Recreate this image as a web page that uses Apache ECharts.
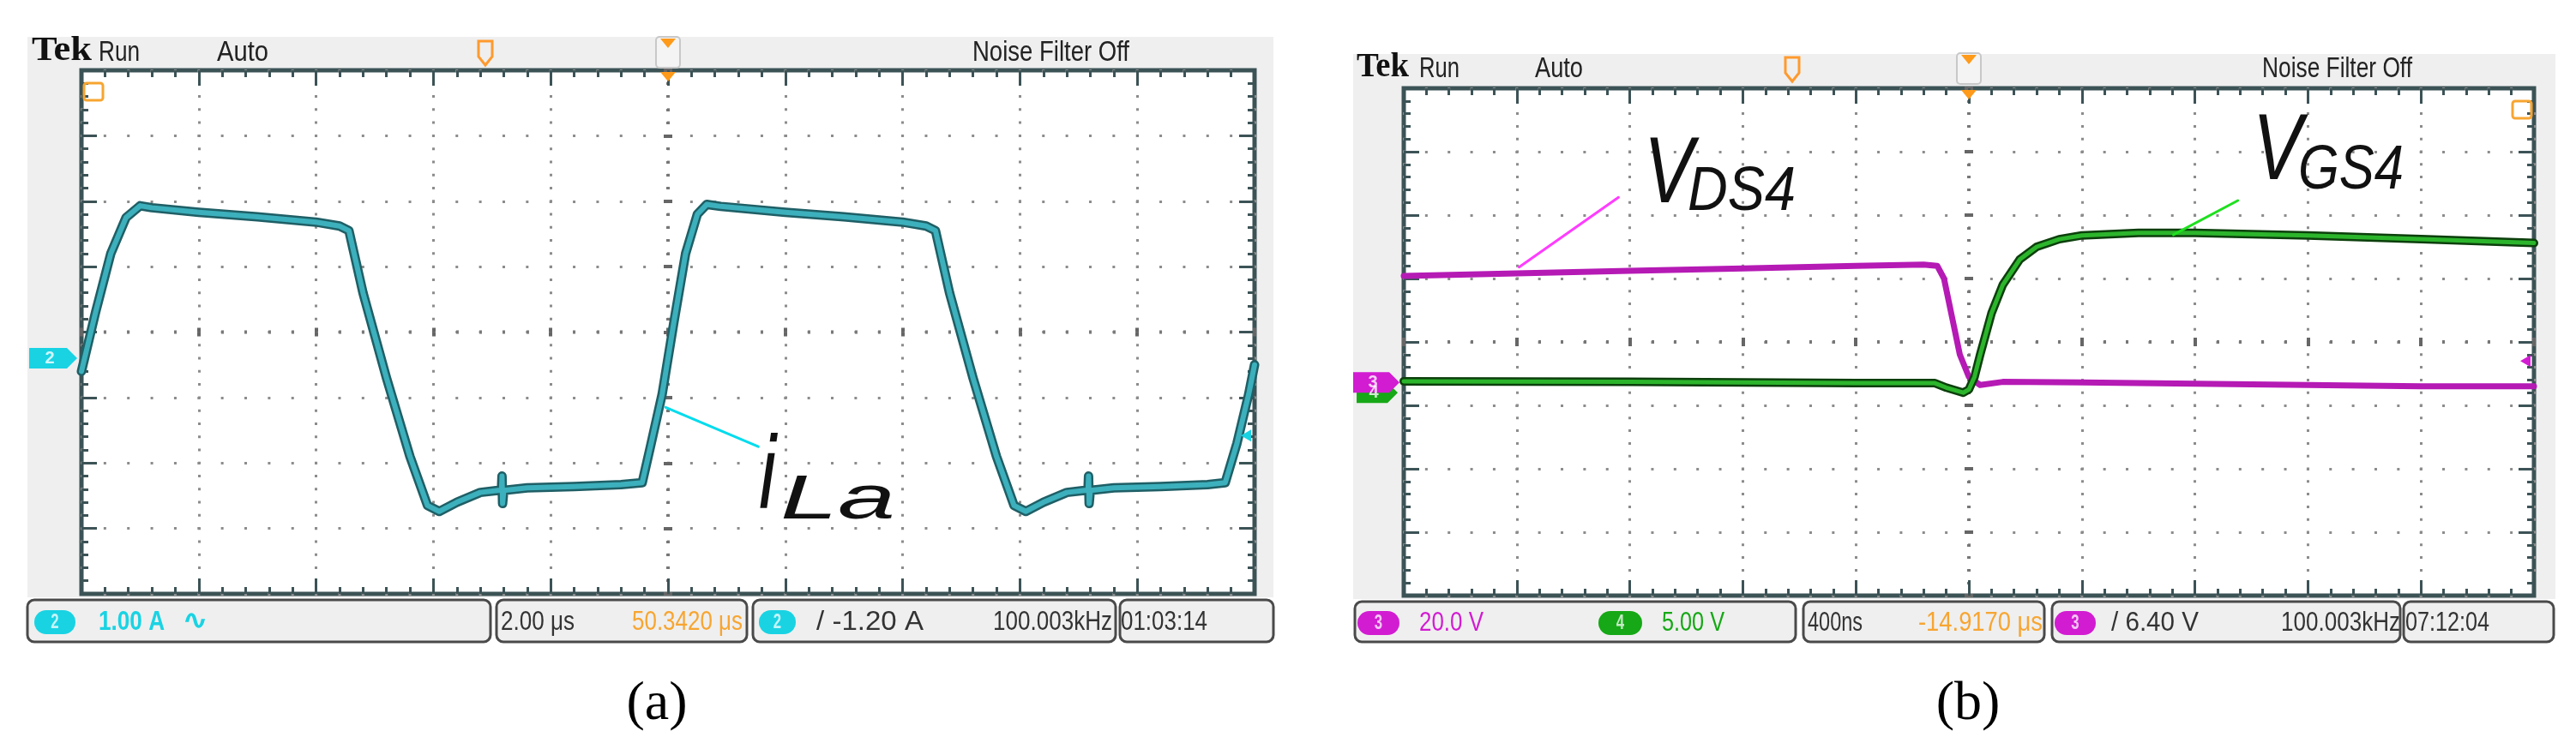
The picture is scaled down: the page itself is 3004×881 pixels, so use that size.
<!DOCTYPE html>
<html>
<head>
<meta charset="utf-8">
<script src="https://cdn.jsdelivr.net/npm/echarts@6/dist/echarts.min.js"></script>
<style>
  html, body { margin: 0; padding: 0; background: #fff; }
  #chart { width: 3004px; height: 881px; }
</style>
</head>
<body>
<div id="chart"></div>
<script>
// values are read off the scope screens, in screen divisions
// x: 0..10 div (left to right), y: -4..4 div (from centre line)

// (a) inductor current iLa, 2.00 us/div, 1.00 A/div
const iLaT = [0, 0.12, 0.25, 0.38, 0.5, 0.6, 1.0, 1.5, 2.0, 2.2, 2.28, 2.4, 2.6, 2.8, 2.95, 3.05, 3.2, 3.4, 3.55, 3.58, 3.585, 3.59, 3.6, 3.8, 4.2, 4.6, 4.78, 4.85, 4.95, 5.05, 5.15, 5.25, 5.33, 5.45, 6.0, 6.5, 7.0, 7.2, 7.28, 7.4, 7.6, 7.8, 7.95, 8.05, 8.2, 8.4, 8.55, 8.58, 8.585, 8.59, 8.6, 8.8, 9.2, 9.6, 9.75, 9.85, 9.95, 10]
const iLaV = [-0.6, 0.3, 1.2, 1.75, 1.93, 1.9, 1.83, 1.76, 1.68, 1.62, 1.55, 0.6, -0.7, -1.9, -2.65, -2.74, -2.6, -2.45, -2.42, -2.42, -2.2, -2.62, -2.42, -2.38, -2.36, -2.33, -2.3, -1.75, -0.95, 0.15, 1.2, 1.8, 1.95, 1.92, 1.83, 1.76, 1.68, 1.62, 1.55, 0.6, -0.7, -1.9, -2.65, -2.74, -2.6, -2.45, -2.42, -2.42, -2.2, -2.62, -2.42, -2.38, -2.36, -2.33, -2.3, -1.7, -0.95, -0.5]

// (b) drain-source and gate-source voltages, 400 ns/div
const vdsT = [0, 1, 2, 3, 4, 4.6, 4.72, 4.78, 4.85, 4.92, 5.0, 5.1, 5.3, 6, 7, 8, 9, 10]
const vdsV = [1.04, 1.08, 1.12, 1.16, 1.2, 1.22, 1.2, 1.0, 0.4, -0.2, -0.55, -0.68, -0.63, -0.64, -0.66, -0.68, -0.7, -0.7]
const vgsT = [0, 2, 4, 4.7, 4.8, 4.95, 5.0, 5.05, 5.1, 5.2, 5.3, 5.45, 5.6, 5.8, 6.0, 6.5, 7, 8, 9, 10]
const vgsV = [-0.62, -0.63, -0.65, -0.65, -0.72, -0.8, -0.75, -0.55, -0.2, 0.45, 0.9, 1.3, 1.5, 1.62, 1.68, 1.72, 1.72, 1.68, 1.62, 1.56]

// label leader lines (div)
const iLaLeadT = [4.98, 5.77]
const iLaLeadV = [-1.15, -1.75]
const vdsLeadT = [1.02, 1.9]
const vdsLeadV = [1.18, 2.28]
const vgsLeadT = [6.81, 7.38]
const vgsLeadV = [1.69, 2.23]

const zip = (xs, ys) => xs.map((x, i) => [x, ys[i]])

const GA = { left: 95, top: 82, width: 1368, height: 611 }
const GB = { left: 1637, top: 103, width: 1318, height: 592 }
const frameColor = '#3c5356'
const dotColor = '#8c8c8c'

function xAxes (gridIndex, g) {
  const dv = g.height / 40
  const base = {
    gridIndex,
    type: 'value',
    min: 0,
    max: 10,
    interval: 1,
    axisLabel: { show: false },
    axisLine: { show: false, onZero: false },
    splitLine: { show: false }
  }
  const tick = { show: true, inside: true, length: 18, lineStyle: { color: frameColor, width: 3 } }
  const minor = { show: true, splitNumber: 5, length: 8, lineStyle: { color: frameColor, width: 3 } }
  // centre line: short marks on both sides
  const centre = inside => Object.assign({}, base, {
    position: 'bottom',
    offset: -g.height / 2,
    axisTick: { show: true, inside, length: 5, lineStyle: { color: '#666', width: 4 } },
    minorTick: { show: true, splitNumber: 5, length: 2, lineStyle: { color: '#777', width: 3 } }
  })
  return [
    Object.assign({}, base, {
      position: 'bottom',
      axisTick: tick,
      minorTick: minor,
      splitLine: { show: true, lineStyle: { color: dotColor, width: 3, type: [3, dv - 3], dashOffset: 1.5 } }
    }),
    Object.assign({}, base, { position: 'top', axisTick: tick, minorTick: minor }),
    centre(true),
    centre(false)
  ]
}

function yAxes (gridIndex, g) {
  const dh = g.width / 50
  const base = {
    gridIndex,
    type: 'value',
    min: -4,
    max: 4,
    interval: 1,
    axisLabel: { show: false },
    axisLine: { show: false, onZero: false },
    splitLine: { show: false }
  }
  const tick = { show: true, inside: true, length: 18, lineStyle: { color: frameColor, width: 3 } }
  const minor = { show: true, splitNumber: 5, length: 8, lineStyle: { color: frameColor, width: 3 } }
  const centre = inside => Object.assign({}, base, {
    position: 'left',
    offset: -g.width / 2,
    axisTick: { show: true, inside, length: 5, lineStyle: { color: '#666', width: 4 } },
    minorTick: { show: true, splitNumber: 5, length: 2, lineStyle: { color: '#777', width: 3 } }
  })
  return [
    Object.assign({}, base, {
      position: 'left',
      axisTick: tick,
      minorTick: minor,
      splitLine: { show: true, lineStyle: { color: dotColor, width: 3, type: [3, dh - 3], dashOffset: 1.5 } }
    }),
    Object.assign({}, base, { position: 'right', axisTick: tick, minorTick: minor }),
    centre(true),
    centre(false)
  ]
}

function trace (data, xi, color, width, z) {
  return {
    type: 'line',
    xAxisIndex: xi,
    yAxisIndex: xi,
    data,
    showSymbol: false,
    silent: true,
    z,
    lineStyle: { color, width, join: 'round', cap: 'round' }
  }
}

// text fitted into a horizontal span
const measureCtx = document.createElement('canvas').getContext('2d')
function fitText (text, x0, x1, yMid, size, color, font, weight, style) {
  const fam = font || 'Liberation Sans'
  measureCtx.font = `${style || 'normal'} ${weight || 'normal'} ${size}px ${fam}`
  const w = measureCtx.measureText(text).width
  return {
    type: 'text',
    x: x0,
    y: yMid,
    scaleX: (x1 - x0) / w,
    z: 50,
    style: {
      text,
      fill: color,
      font: `${style || 'normal'} ${weight || 'normal'} ${size}px ${fam}`,
      textAlign: 'left',
      textVerticalAlign: 'middle'
    }
  }
}

function statusSeg (x0, x1, y0, y1) {
  return {
    type: 'rect',
    z: 10,
    shape: { x: x0, y: y0, width: x1 - x0, height: y1 - y0, r: 8 },
    style: { fill: '#efefef', stroke: '#4a4a4a', lineWidth: 3 }
  }
}

function badge (x0, x1, y0, y1, color, label) {
  return [
    {
      type: 'rect',
      z: 20,
      shape: { x: x0, y: y0, width: x1 - x0, height: y1 - y0, r: (y1 - y0) / 2 },
      style: { fill: color }
    },
    {
      type: 'text',
      z: 21,
      x: (x0 + x1) / 2,
      y: (y0 + y1) / 2,
      scaleX: 0.7,
      style: { text: label, fill: 'rgba(255,255,255,0.75)', font: 'bold 24px Liberation Sans', textAlign: 'center', textVerticalAlign: 'middle' }
    }
  ]
}

function header (yMid, p) {
  return [
    fitText('Tek', p.tek[0], p.tek[1], yMid, 40, '#111', 'Liberation Serif', 'bold'),
    fitText('Run', p.run[0], p.run[1], yMid + 2, 34, '#222'),
    fitText('Auto', p.auto[0], p.auto[1], yMid + 2, 34, '#222'),
    fitText('Noise Filter Off', p.nf[0], p.nf[1], yMid + 2, 34, '#222'),
    // trigger position marker
    {
      type: 'polygon', z: 30,
      shape: { points: [[p.tp - 8, yMid - 12], [p.tp + 8, yMid - 12], [p.tp + 8, yMid + 6], [p.tp, yMid + 16], [p.tp - 8, yMid + 6]] },
      style: { fill: 'none', stroke: '#ff9a2e', lineWidth: 3 }
    },
    // centre bracket
    {
      type: 'rect', z: 30,
      shape: { x: p.c - 14, y: yMid - 17, width: 28, height: 36, r: 4 },
      style: { fill: '#f4f4f4', stroke: '#c8c8c8', lineWidth: 2 }
    },
    {
      type: 'polygon', z: 31,
      shape: { points: [[p.c - 9, yMid - 15], [p.c + 9, yMid - 15], [p.c, yMid - 4]] },
      style: { fill: '#ff9a1a' }
    },
    {
      type: 'polygon', z: 31,
      shape: { points: [[p.c - 9, p.top + 2], [p.c + 9, p.top + 2], [p.c, p.top + 13]] },
      style: { fill: '#ff9a1a' }
    }
  ]
}

function groundMarker (x0, x1, y, color, label) {
  return [
    {
      type: 'polygon', z: 40,
      shape: { points: [[x0, y - 12], [x1 - 12, y - 12], [x1, y], [x1 - 12, y + 12], [x0, y + 12]] },
      style: { fill: color }
    },
    {
      type: 'text', z: 41, x: (x0 + x1) / 2 - 4, y,
      style: { text: label, fill: 'rgba(255,255,255,0.8)', font: 'bold 20px Liberation Sans', textAlign: 'center', textVerticalAlign: 'middle' }
    }
  ]
}

function levelMarker (xr, y, color) {
  return {
    type: 'polygon', z: 40,
    shape: { points: [[xr - 16, y], [xr - 4, y - 7], [xr - 4, y + 7]] },
    style: { fill: color }
  }
}

const pyA = v => GA.top + GA.height / 2 - v * GA.height / 8
const pyB = v => GB.top + GB.height / 2 - v * GB.height / 8

const cyan = '#19d3e3'
const magenta = '#d21cd2'
const green = '#16a816'
const orange = '#f7a531'

const graphics = [
  // scope frames
  { type: 'rect', z: -10, shape: { x: 32, y: 43, width: 1453, height: 654 }, style: { fill: '#efefef' } },
  { type: 'rect', z: -10, shape: { x: 1578, y: 63, width: 1402, height: 636 }, style: { fill: '#efefef' } },
  ...header(60, { tek: [37, 107], run: [115, 163], auto: [253, 313], nf: [1134, 1317], tp: 566, c: 779, top: GA.top }),
  ...header(79, { tek: [1582, 1643], run: [1655, 1702], auto: [1790, 1846], nf: [2638, 2813], tp: 2090, c: 2296, top: GB.top }),

  // status bar (a)
  statusSeg(32, 572, 700, 749),
  statusSeg(579, 871, 700, 749),
  statusSeg(878, 1301, 700, 749),
  statusSeg(1306, 1485, 700, 749),
  ...badge(40, 88, 712, 740, cyan, '2'),
  fitText('1.00 A', 115, 192, 726, 32, cyan, 'Liberation Sans', 'bold'),
  fitText('\u223f', 212, 243, 726, 32, cyan, 'DejaVu Sans', 'bold'),
  fitText('2.00 \u03bcs', 584, 670, 726, 32, '#333'),
  fitText('50.3420 \u03bcs', 737, 866, 726, 32, orange),
  ...badge(885, 928, 712, 740, cyan, '2'),
  fitText('/ -1.20 A', 952, 1077, 726, 32, '#333'),
  fitText('100.003kHz', 1158, 1297, 726, 32, '#333'),
  fitText('01:03:14', 1307, 1408, 726, 32, '#333'),

  // status bar (b)
  statusSeg(1580, 2094, 702, 749),
  statusSeg(2103, 2384, 702, 749),
  statusSeg(2393, 2799, 702, 749),
  statusSeg(2803, 2978, 702, 749),
  ...badge(1583, 1632, 713, 741, magenta, '3'),
  fitText('20.0 V', 1655, 1730, 727, 32, magenta),
  ...badge(1864, 1915, 713, 741, green, '4'),
  fitText('5.00 V', 1938, 2011, 727, 32, green),
  fitText('400ns', 2108, 2172, 727, 32, '#333'),
  fitText('-14.9170 \u03bcs', 2237, 2382, 727, 32, orange),
  ...badge(2396, 2444, 713, 741, magenta, '3'),
  fitText('/ 6.40 V', 2462, 2564, 727, 32, '#333'),
  fitText('100.003kHz', 2660, 2799, 727, 32, '#333'),
  fitText('07:12:04', 2805, 2903, 727, 32, '#333'),

  // channel markers
  ...groundMarker(34, 90, pyA(-0.4), cyan, '2'),
  levelMarker(GA.left + GA.width, pyA(-1.58), cyan),
  { type: 'rect', z: 40, shape: { x: 98, y: 97, width: 22, height: 20, r: 3 }, style: { fill: 'none', stroke: orange, lineWidth: 3 } },
  ...groundMarker(1582, 1630, pyB(-0.8), green, '4'),
  ...groundMarker(1578, 1632, pyB(-0.64), magenta, '3'),
  levelMarker(GB.left + GB.width, pyB(-0.3), magenta),
  { type: 'rect', z: 40, shape: { x: 2930, y: 118, width: 22, height: 20, r: 3 }, style: { fill: 'none', stroke: orange, lineWidth: 3 } },

  // trace labels
  fitText('i', 885, 905, 560, 120, '#111', 'Liberation Sans', 'normal', 'italic'),
  fitText('La', 910, 1044, 585, 72, '#111', 'Liberation Sans', 'normal', 'italic'),
  fitText('V', 1917, 1975, 205, 110, '#111', 'Liberation Sans', 'normal', 'italic'),
  fitText('DS4', 1968, 2094, 225, 72, '#111', 'Liberation Sans', 'normal', 'italic'),
  fitText('V', 2627, 2685, 178, 110, '#111', 'Liberation Sans', 'normal', 'italic'),
  fitText('GS4', 2680, 2803, 200, 72, '#111', 'Liberation Sans', 'normal', 'italic'),

  // captions
  { type: 'text', z: 50, x: 766, y: 822, style: { text: '(a)', fill: '#000', font: '64px Liberation Serif', textAlign: 'center', textVerticalAlign: 'middle' } },
  { type: 'text', z: 50, x: 2295, y: 822, style: { text: '(b)', fill: '#000', font: '64px Liberation Serif', textAlign: 'center', textVerticalAlign: 'middle' } }
]

const chart = echarts.init(document.getElementById('chart'))
chart.setOption({
  animation: false,
  backgroundColor: '#fff',
  grid: [
    Object.assign({ show: true, backgroundColor: '#fff', borderColor: frameColor, borderWidth: 5 }, GA),
    Object.assign({ show: true, backgroundColor: '#fff', borderColor: frameColor, borderWidth: 5 }, GB)
  ],
  xAxis: [...xAxes(0, GA), ...xAxes(1, GB)],
  yAxis: [...yAxes(0, GA), ...yAxes(1, GB)],
  series: [
    trace(zip(iLaT, iLaV), 0, '#1f5f66', 11, 3),
    trace(zip(iLaT, iLaV), 0, '#3cb0bc', 6, 4),
    trace(zip(iLaLeadT, iLaLeadV), 0, '#00dced', 3, 5),
    trace(zip(vdsT, vdsV), 4, '#b51ab5', 7, 3),
    trace(zip(vgsT, vgsV), 4, '#0c3f0c', 10, 4),
    trace(zip(vgsT, vgsV), 4, '#2cb52c', 5, 5),
    trace(zip(vdsLeadT, vdsLeadV), 4, '#ff3cff', 3, 6),
    trace(zip(vgsLeadT, vgsLeadV), 4, '#1ee01e', 3, 6)
  ],
  graphic: { elements: graphics }
})
</script>
</body>
</html>
